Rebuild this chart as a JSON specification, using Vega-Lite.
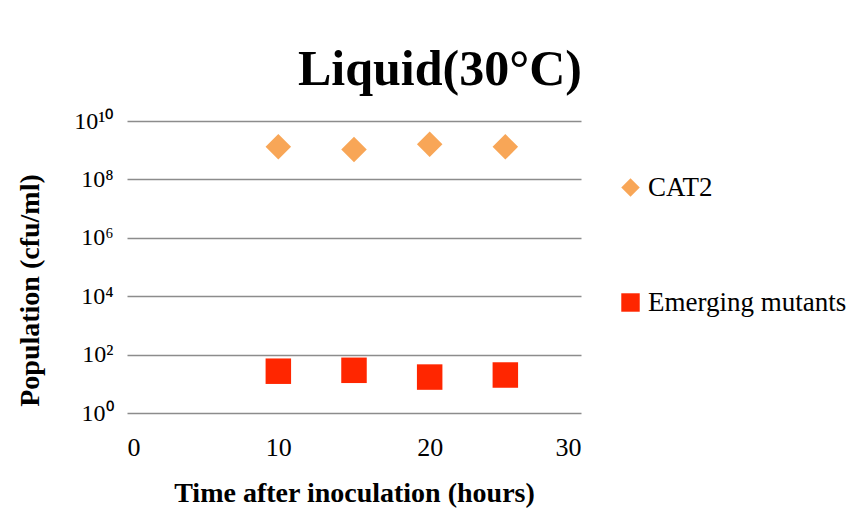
{
  "$schema": "https://vega.github.io/schema/vega-lite/v6.json",
  "width": 454,
  "height": 292,
  "autosize": {"type": "none"},
  "padding": {"left": 127, "top": 121, "right": 280, "bottom": 110},
  "background": "white",
  "title": {
    "text": "Liquid(30°C)",
    "font": "Liberation Serif",
    "fontSize": 50,
    "fontWeight": "bold",
    "color": "black",
    "anchor": "middle",
    "dx": 86,
    "offset": 14
  },
  "data": {
    "values": [
      {"time": 10, "population": 1300000000, "series": "CAT2"},
      {"time": 15, "population": 1050000000, "series": "CAT2"},
      {"time": 20, "population": 1600000000, "series": "CAT2"},
      {"time": 25, "population": 1300000000, "series": "CAT2"},
      {"time": 10, "population": 27, "series": "Emerging mutants"},
      {"time": 15, "population": 29, "series": "Emerging mutants"},
      {"time": 20, "population": 17, "series": "Emerging mutants"},
      {"time": 25, "population": 20, "series": "Emerging mutants"}
    ]
  },
  "mark": {"type": "point", "filled": true, "opacity": 1, "size": 650},
  "encoding": {
    "x": {
      "field": "time",
      "type": "quantitative",
      "scale": {"domain": [0, 30], "nice": false},
      "axis": {
        "values": [0, 10, 20, 30],
        "title": "Time after inoculation (hours)",
        "titleFont": "Liberation Serif",
        "titleFontSize": 28,
        "titleFontWeight": "bold",
        "titleColor": "black",
        "titleBaseline": "alphabetic",
        "titleY": 88,
        "labelFont": "Liberation Serif",
        "labelFontSize": 26,
        "labelColor": "black",
        "labelPadding": 21,
        "domain": false,
        "ticks": false,
        "grid": false
      }
    },
    "y": {
      "field": "population",
      "type": "quantitative",
      "scale": {"type": "log", "domain": [1, 10000000000], "nice": false},
      "axis": {
        "values": [1, 100, 10000, 1000000, 100000000, 10000000000],
        "labelExpr": "datum.value == 1 ? '10⁰' : datum.value == 100 ? '10²' : datum.value == 10000 ? '10⁴' : datum.value == 1000000 ? '10⁶' : datum.value == 100000000 ? '10⁸' : '10¹⁰'",
        "title": "Population (cfu/ml)",
        "titleFont": "Liberation Serif",
        "titleFontSize": 28,
        "titleFontWeight": "bold",
        "titleColor": "black",
        "titleBaseline": "middle",
        "titleX": -97,
        "titleY": 169,
        "labelFont": "Liberation Serif",
        "labelFontSize": 24,
        "labelColor": "black",
        "labelPadding": 14,
        "domain": false,
        "ticks": false,
        "grid": true,
        "gridColor": "#8c8c8c",
        "gridWidth": 1.5
      }
    },
    "color": {
      "field": "series",
      "type": "nominal",
      "scale": {"domain": ["CAT2", "Emerging mutants"], "range": ["#F8A657", "#FF2600"]},
      "legend": {
        "title": null,
        "orient": "none",
        "legendX": 490,
        "legendY": 53,
        "rowPadding": 87,
        "symbolSize": 340,
        "symbolOpacity": 1,
        "labelFont": "Liberation Serif",
        "labelFontSize": 27,
        "labelLimit": 400,
        "labelColor": "black",
        "labelOffset": 4
      }
    },
    "shape": {
      "field": "series",
      "type": "nominal",
      "scale": {"domain": ["CAT2", "Emerging mutants"], "range": ["diamond", "square"]},
      "legend": null
    }
  },
  "config": {
    "font": "Liberation Serif",
    "view": {"stroke": null}
  }
}
